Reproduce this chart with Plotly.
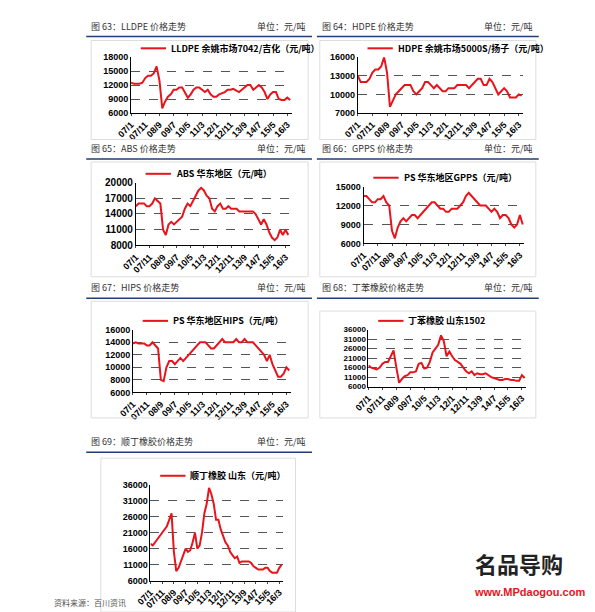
import plotly.graph_objs as go

W, H = 595, 612

months = list(range(0, 114, 2))  # 07/1 .. 16/5, every 2 months
tick_vals = list(range(0, 120, 10))
tick_text = ['07/1', '07/11', '08/9', '09/7', '10/5', '11/3', '12/1', '12/11', '13/9', '14/7', '15/5', '16/3']

lldpe = [12500, 12300, 12300, 12300, 12500, 13500,
         14000, 14000, 14500, 16000, 13000, 7000,
         8500, 9500, 10000, 11000, 11000, 11500,
         11500, 10500, 9300, 10000, 11000, 11500,
         11500, 11000, 10500, 11000, 10000, 9500,
         9500, 10000, 10300, 10500, 11000, 11000,
         11200, 10800, 10500, 11000, 11500, 12000,
         12000, 11000, 11500, 12000, 11500, 10500,
         9000, 10000, 10500, 10500, 9000, 8800,
         8800, 9300, 8800]
hdpe = [13000, 12000, 12000, 12000, 12500, 13500,
        14000, 14000, 14500, 16000, 13500, 8000,
        9000, 10000, 10500, 11000, 11500, 11500,
        11500, 10500, 10000, 10500, 11000, 12000,
        12000, 11500, 11000, 11500, 11000, 10500,
        10500, 11000, 11000, 11000, 11500, 11500,
        11500, 11500, 11000, 11500, 12000, 12500,
        12500, 11500, 11500, 12500, 12000, 11000,
        10000, 10500, 11000, 10500, 9500, 9500,
        9500, 10000, 9800]
abs_ = [15500, 16000, 16000, 16000, 15500, 15500,
        16000, 17000, 16500, 16000, 11000, 10000,
        12000, 12500, 12000, 12500, 13000, 13500,
        15000, 16000, 15500, 16500, 17500, 18500,
        19000, 18500, 17500, 17000, 15000, 14500,
        15500, 16000, 15000, 15000, 15500, 15000,
        15000, 15000, 14500, 14500, 14500, 14500,
        14500, 14500, 14000, 13000, 12000, 13000,
        12000, 10500, 9500, 9000, 9500, 11000,
        10000, 11000, 10000]
gpps = [13500, 13500, 13000, 12500, 12500, 13000,
        13000, 13500, 12500, 12000, 8000, 6800,
        8500, 9500, 10000, 9500, 10000, 10500,
        10500, 10000, 10500, 11000, 11500, 12000,
        12500, 12500, 12000, 11500, 11500, 11000,
        11000, 11500, 11500, 11500, 12000, 12500,
        13500, 14000, 13500, 13000, 12500, 12000,
        12000, 12000, 11500, 11000, 11500, 11000,
        10000, 10500, 10500, 10000, 9000, 8500,
        9000, 10500, 9000]
hips = [13800, 14000, 13800, 13800, 13800, 13500,
        13500, 14000, 13500, 13000, 8000, 7800,
        10000, 11000, 11000, 10500, 11000, 11500,
        11000, 11500, 12000, 12500, 13000, 13500,
        14000, 14000, 14000, 13500, 13000, 13000,
        13500, 14000, 14500, 14000, 14000, 14000,
        14000, 14500, 14000, 14000, 14500, 14000,
        14000, 14000, 13500, 13000, 12500, 12000,
        11000, 12000, 10500, 9500, 8500, 8500,
        9000, 10000, 9500]
sbr = [17000, 16000, 15500, 15000, 16000, 18000,
       19000, 19000, 22000, 25000, 16000, 8000,
       10000, 11500, 12000, 13500, 13500, 14000,
       18000, 18500, 15500, 16000, 19000, 24000,
       26000, 28000, 33000, 30000, 22000, 24500,
       22000, 20000, 19000, 18000, 16000, 14000,
       13000, 14000, 12000, 13000, 12500, 12500,
       13000, 12000, 11000, 10500, 10000, 9500,
       9500, 10000, 10000, 9500, 9500, 9000,
       9000, 12000, 10500]
br = [17500, 17000, 18000, 19000, 20000, 21000,
      22000, 23000, 25000, 27000, 15000, 9000,
      10000, 12000, 14000, 16000, 15000, 15500,
      18000, 21000, 16000, 17000, 21000, 27000,
      30000, 35000, 33000, 30000, 25000, 25000,
      22000, 20000, 18000, 17000, 15000, 14000,
      13000, 13500, 11500, 12000, 12000, 12000,
      12000, 11500, 10500, 10000, 9500, 9500,
      9500, 10000, 10000, 9000, 8500, 8500,
      8500, 10000, 11000]

# panel: (title, legend text, series, yticks, plot box px (x0,x1,y0,y1), frame px, header px (x0,x1,y), y font size)
panels = [
    ('图 63：LLDPE 价格走势', 'LLDPE 余姚市场7042/吉化（元/吨）', lldpe, [6000, 9000, 12000, 15000, 18000],
     (111, 276, 44, 101), (70, 293, 27, 128), (65, 297, 23), 9),
    ('图 64：HDPE 价格走势', 'HDPE 余姚市场5000S/扬子（元/吨）', hdpe, [7000, 10000, 13000, 16000],
     (344, 514, 44, 101), (305, 527, 27, 128), (302, 530, 23), 9),
    ('图 65：ABS 价格走势', 'ABS 华东地区（元/吨）', abs_, [8000, 11000, 14000, 17000, 20000],
     (116, 274, 172, 236), (70, 293, 151, 268), (65, 297, 148), 10),
    ('图 66：GPPS 价格走势', 'PS 华东地区GPPS（元/吨）', gpps, [6000, 9000, 12000, 15000],
     (350, 515, 176, 234), (305, 527, 151, 268), (302, 530, 148), 9),
    ('图 67：HIPS 价格走势', 'PS 华东地区HIPS（元/吨）', hips, [6000, 8000, 10000, 12000, 14000, 16000],
     (113, 275, 322, 386), (70, 293, 293, 412), (65, 297, 290), 9),
    ('图 68：丁苯橡胶价格走势', '丁苯橡胶 山东1502', sbr, [6000, 11000, 16000, 21000, 26000, 31000, 36000],
     (355, 517, 322, 380), (305, 527, 303, 412), (302, 530, 290), 8),
    ('图 69：顺丁橡胶价格走势', '顺丁橡胶 山东（元/吨）', br, [6000, 11000, 16000, 21000, 26000, 31000, 36000],
     (131, 267, 480, 578), (80, 280, 453, 610), (65, 297, 447), 9),
]

fig = go.Figure()
shapes, annos = [], []
font_cn = 'Noto Sans CJK SC'

for i, (title, leg, ys, yt, pb, fr, hd, yfs) in enumerate(panels):
    n = '' if i == 0 else str(i + 1)
    xa, ya = 'x' + n, 'y' + n
    x0, x1, y0, y1 = pb
    fig.add_trace(go.Scatter(x=months, y=ys, mode='lines', line=dict(color='#e8141b', width=2),
                             xaxis=xa, yaxis=ya, showlegend=False))
    fig.update_layout(**{
        'xaxis' + n: dict(domain=[x0 / W, x1 / W], anchor=ya, range=[0, 113], tickvals=tick_vals,
                          ticktext=tick_text, tickangle=-45, showgrid=False, zeroline=False,
                          showline=True, linecolor='black', linewidth=1, ticks='outside', ticklen=2,
                          tickfont=dict(family='Arial', size=9, color='black', weight='bold')),
        'yaxis' + n: dict(domain=[1 - y1 / H, 1 - y0 / H], anchor=xa, range=[yt[0], yt[-1]],
                          tickvals=yt, ticktext=[str(v) for v in yt], showgrid=True, gridcolor='#555',
                          griddash='dash', gridwidth=0.6,
                          zeroline=False, showline=True, linecolor='black', linewidth=1,
                          tickfont=dict(family='Arial', size=yfs, color='black', weight='bold')),
    })
    # frame around the chart
    shapes.append(dict(type='rect', xref='paper', yref='paper', x0=fr[0] / W, x1=fr[1] / W,
                       y0=1 - fr[3] / H, y1=1 - fr[2] / H, line=dict(color='#dddddd', width=1)))
    # header text and blue rule
    shapes.append(dict(type='line', xref='paper', yref='paper', x0=hd[0] / W, x1=hd[1] / W,
                       y0=1 - hd[2] / H, y1=1 - hd[2] / H, line=dict(color='#1f3f75', width=1.5)))
    annos.append(dict(xref='paper', yref='paper', x=(hd[0] + 3) / W, y=1 - (hd[2] - 2) / H,
                      xanchor='left', yanchor='bottom', text=title, showarrow=False,
                      font=dict(family=font_cn, size=9, color='#333')))
    annos.append(dict(xref='paper', yref='paper', x=(hd[1] - 4) / W, y=1 - (hd[2] - 2) / H,
                      xanchor='right', yanchor='bottom', text='单位：元/吨', showarrow=False,
                      font=dict(family=font_cn, size=9, color='#333')))
    # legend sample
    lx = x0 + 10
    ly = y0 - 9
    shapes.append(dict(type='line', xref='paper', yref='paper', x0=lx / W, x1=(lx + 26) / W,
                       y0=1 - ly / H, y1=1 - ly / H, line=dict(color='#e8141b', width=2)))
    annos.append(dict(xref='paper', yref='paper', x=(lx + 29) / W, y=1 - ly / H, xanchor='left',
                      yanchor='middle', text='<b>' + leg + '</b>', showarrow=False,
                      font=dict(family=font_cn, size=9, color='black')))

annos.append(dict(xref='paper', yref='paper', x=30 / W, y=1 - 600 / H, xanchor='left', yanchor='middle',
                  text='资料来源：百川资讯', showarrow=False, font=dict(family=font_cn, size=8, color='#555')))
annos.append(dict(xref='paper', yref='paper', x=510 / W, y=1 - 560 / H, xanchor='center', yanchor='middle',
                  text='<b>名品导购</b>', showarrow=False, font=dict(family=font_cn, size=22, color='#222')))
annos.append(dict(xref='paper', yref='paper', x=520 / W, y=1 - 590 / H, xanchor='center', yanchor='middle',
                  text='<b>www.MPdaogou.com</b>', showarrow=False, font=dict(family='Arial', size=11, color='#e8141b')))

fig.update_layout(width=W, height=H, margin=dict(l=0, r=0, t=0, b=0), plot_bgcolor='white',
                  paper_bgcolor='white', shapes=shapes, annotations=annos)
fig.write_html("out.html")
